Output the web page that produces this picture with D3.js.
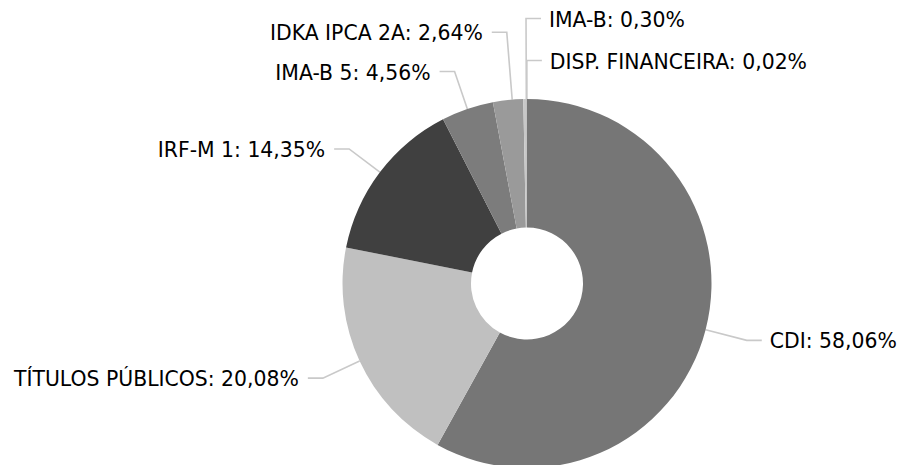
<!DOCTYPE html>
<html>
<head>
<meta charset="utf-8">
<script src="https://cdn.jsdelivr.net/npm/d3@7"></script>
<style>
  body { margin: 0; background: #fff; }
  svg { display: block; }
  .lbl { font-family: "DejaVu Sans", Verdana, sans-serif; font-size: 20.4px; fill: #000; }
  .leader { fill: none; stroke: #c9c9c9; stroke-width: 1.6; }
</style>
</head>
<body>
<script>
(function(){

//chart data
var categories = ["CDI", "TÍTULOS PÚBLICOS", "IRF-M 1", "IMA-B 5", "IDKA IPCA 2A", "IMA-B", "DISP. FINANCEIRA"];
var values = [58.06, 20.08, 14.35, 4.56, 2.64, 0.30, 0.02];
var valueLabels = ["58,06%", "20,08%", "14,35%", "4,56%", "2,64%", "0,30%", "0,02%"];

//slice fills
var colors = ["#767676", "#c0c0c0", "#404040", "#7c7c7c", "#9a9a9a", "#c8c8c8", "#8a8a8a"];

//label elbow: distance from centre and small angle nudge (degrees)
var labelRadius = [227, 225, 223, 224, 252, 265, 223];
var labelNudge = [0, 0, 0, 0, 1.3, 0.4, 0];

window.onload = drawChart();

function drawChart(){
    var width = 903,
        height = 465;

    var cx = 527, cy = 283.5,
        outerR = 184.5, innerR = 56;

    var svg = d3.select("body")
        .append("svg")
        .attr("width", width)
        .attr("height", height);

    var pie = d3.pie()
        .sort(null)
        .value(function(d){ return d.value; });

    var rows = categories.map(function(c, i){
        return { name: c, value: values[i], label: valueLabels[i], i: i };
    });
    var arcs = pie(rows);

    var arc = d3.arc()
        .innerRadius(innerR)
        .outerRadius(outerR);

    var g = svg.append("g")
        .attr("transform", "translate(" + cx + "," + cy + ")");

    //leader lines go under the slices
    var leaders = g.append("g");
    var slices = g.append("g");
    var labels = g.append("g");

    arcs.forEach(function(a){
        var i = a.data.i;
        var mid = (a.startAngle + a.endAngle) / 2 + labelNudge[i] * Math.PI / 180;
        var r = labelRadius[i];
        var ex = r * Math.sin(mid),
            ey = -r * Math.cos(mid);
        //point on outer edge, on the line from elbow toward centre
        var k = outerR / r;
        var sx = ex * k, sy = ey * k;
        var right = Math.sin(mid) >= -0.01;
        var hx = ex + (right ? 15 : -15);

        leaders.append("polyline")
            .attr("class", "leader")
            .attr("points", [[sx, sy], [ex, ey], [hx, ey]].map(function(p){ return p.join(","); }).join(" "));

        labels.append("text")
            .attr("class", "lbl")
            .attr("x", hx + (right ? 8 : -9))
            .attr("y", ey + 8)
            .attr("text-anchor", right ? "start" : "end")
            .text(a.data.name + ": " + a.data.label);
    });

    slices.selectAll("path")
        .data(arcs)
        .enter()
        .append("path")
        .attr("d", arc)
        .style("fill", function(d){ return colors[d.data.i]; });
};

})();
</script>
</body>
</html>
